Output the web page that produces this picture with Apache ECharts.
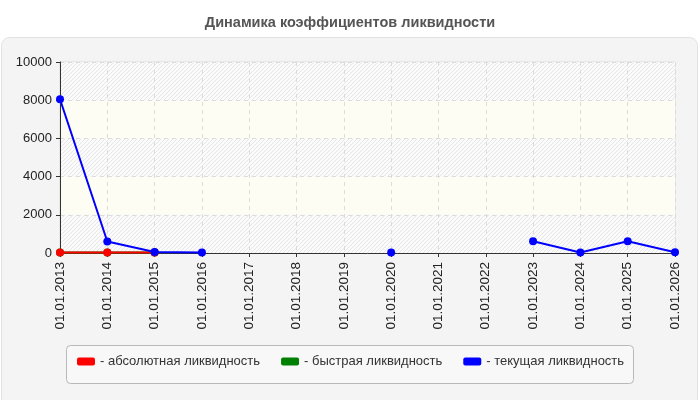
<!DOCTYPE html>
<html>
<head>
<meta charset="utf-8">
<script src="https://cdn.jsdelivr.net/npm/echarts@6/dist/echarts.min.js"></script>
<style>
  html, body { margin: 0; padding: 0; background: #fff; }
  #chart { width: 700px; height: 400px; }
</style>
</head>
<body>
<div id="chart"></div>
<script>
const categories = ["01.01.2013", "01.01.2014", "01.01.2015", "01.01.2016", "01.01.2017",
  "01.01.2018", "01.01.2019", "01.01.2020", "01.01.2021", "01.01.2022",
  "01.01.2023", "01.01.2024", "01.01.2025", "01.01.2026"];
const absoluteLiq = [20, 20, 20, null, null, null, null, null, null, null, null, null, null, null];
const quickLiq = [20, 20, 20, null, null, null, null, null, null, null, null, null, null, null];
const currentLiq = [8050, 600, 50, 30, null, null, null, 20, null, null, 620, 30, 620, 40];
const seriesNames = ["абсолютная ликвидность", "быстрая ликвидность", "текущая ликвидность"];
const seriesColors = ["#ff0000", "#008000", "#0000ff"];

// hatched fill for the striped bands
const hatch = document.createElement("canvas");
hatch.width = 4; hatch.height = 4;
const hc = hatch.getContext("2d");
hc.fillStyle = "#fbfbfb";
hc.fillRect(0, 0, 4, 4);
hc.strokeStyle = "#e6e6e6";
hc.lineWidth = 1;
hc.beginPath();
hc.moveTo(0, 4); hc.lineTo(4, 0);
hc.moveTo(-2, 2); hc.lineTo(2, -2);
hc.moveTo(2, 6); hc.lineTo(6, 2);
hc.stroke();

const chart = echarts.init(document.getElementById("chart"));

function makeSeries(i, data, z) {
  return {
    name: seriesNames[i],
    type: "line",
    data: data,
    z: z,
    symbol: "circle",
    symbolSize: 8,
    connectNulls: false,
    lineStyle: { color: seriesColors[i], width: 2 },
    itemStyle: { color: seriesColors[i] },
    animation: false
  };
}

chart.setOption({
  animation: false,
  title: {
    text: "Динамика коэффициентов ликвидности",
    left: "center",
    top: 10,
    textStyle: { fontFamily: "Liberation Sans", fontSize: 14.5, fontWeight: "bold", color: "#555" }
  },
  graphic: [{
    type: "rect",
    z: -10,
    shape: { x: 1.5, y: 37.5, width: 696, height: 370, r: 8 },
    style: { fill: "#f4f4f4", stroke: "#e2e2e2", lineWidth: 1 }
  }, {
    type: "rect",
    z: -9,
    shape: { x: 66.5, y: 345.5, width: 567, height: 38, r: 4 },
    style: { fill: "#f8f8f8", stroke: "#b8b8b8", lineWidth: 1 }
  }],
  legend: {
    left: 77,
    top: 355,
    padding: 0,
    itemWidth: 18,
    itemHeight: 8,
    itemGap: 21,
    icon: "roundRect",
    formatter: "- {name}",
    data: seriesNames.map(function (n, i) {
      return { name: n, itemStyle: { color: seriesColors[i] } };
    }),
    textStyle: { fontFamily: "Liberation Sans", fontSize: 13, color: "#333" }
  },
  grid: {
    left: 60, right: 25, top: 62, bottom: 147,
    show: true, borderColor: "#dddddd", borderWidth: 1, backgroundColor: "transparent"
  },
  xAxis: {
    type: "category",
    data: categories,
    boundaryGap: false,
    axisLine: { lineStyle: { color: "#333", width: 1 } },
    axisTick: { show: true, alignWithLabel: true, length: 4, lineStyle: { color: "#333" } },
    axisLabel: { rotate: 90, interval: 0, fontFamily: "Liberation Sans", fontSize: 13.5, color: "#222", margin: 9 },
    splitLine: { show: true, lineStyle: { color: "#dcdcdc", type: [4, 4] } }
  },
  yAxis: {
    type: "value",
    min: 0,
    max: 10000,
    interval: 2000,
    axisLine: { show: true, lineStyle: { color: "#333", width: 1 } },
    axisTick: { show: true, length: 4, lineStyle: { color: "#333" } },
    axisLabel: {
      fontFamily: "Liberation Sans", fontSize: 13, color: "#222", margin: 8,
      formatter: function (v) { return String(v); }
    },
    splitLine: { show: true, lineStyle: { color: "#dcdcdc", type: [4, 4] } },
    splitArea: {
      show: true,
      areaStyle: { color: [{ image: hatch, repeat: "repeat" }, "#fdfdf4"] }
    }
  },
  series: [
    makeSeries(0, absoluteLiq, 3),
    makeSeries(1, quickLiq, 2),
    makeSeries(2, currentLiq, 4)
  ]
});
</script>
</body>
</html>
